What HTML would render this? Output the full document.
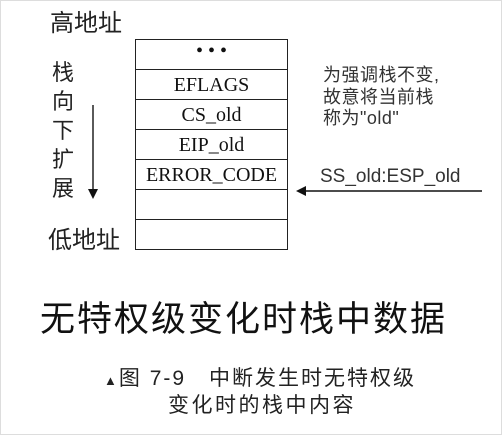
<!DOCTYPE html>
<html><head><meta charset="utf-8"><style>
body{margin:0;width:502px;height:435px;background:#fff;position:relative;overflow:hidden;font-family:"Liberation Sans","Noto Sans CJK SC",sans-serif;color:#222}
.frame{position:absolute;left:0;top:0;width:500px;height:433px;border:1px solid #ddd}
.a{position:absolute;white-space:nowrap;line-height:1}
.tbl{position:absolute;left:135px;top:39px;width:151px;border:1.5px solid #222;border-bottom:none}
.tbl div{height:29px;border-bottom:1.5px solid #222;font-family:"Liberation Serif",serif;font-size:20px;text-align:center;line-height:31px;color:#111}
</style></head><body>
<div class="frame"></div>
<div class="a" style="left:50px;top:12px;font-size:24px">高地址</div>
<div class="a" style="left:48px;top:229px;font-size:24px">低地址</div>
<div class="a" style="left:52px;top:58px;font-size:22px;line-height:29px;width:24px;white-space:normal">栈向下扩展</div>
<svg class="a" style="left:0;top:0" width="502" height="435">
<line x1="93" y1="105" x2="93" y2="190" stroke="#222" stroke-width="1.5"/>
<polygon points="88,189 98,189 93,199" fill="#111"/>
<line x1="302" y1="191" x2="482" y2="191" stroke="#111" stroke-width="1.5"/>
<polygon points="296,191 306,186 306,196" fill="#111"/>
</svg>
<div class="tbl">
<div style="line-height:22px">• • •</div><div>EFLAGS</div><div>CS_old</div><div>EIP_old</div><div>ERROR_CODE</div><div></div><div></div>
</div>
<div class="a" style="left:323px;top:65px;font-size:18px;line-height:21.5px;letter-spacing:0.5px;color:#333">为强调栈不变,<br>故意将当前栈<br>称为"old"</div>
<div class="a" style="left:320px;top:167px;font-size:19px;color:#333">SS_old:ESP_old</div>
<div class="a" style="left:40px;top:302px;font-size:35px;letter-spacing:2px;color:#111">无特权级变化时栈中数据</div>
<div class="a" style="left:104px;top:368px;font-size:21px;letter-spacing:2px;color:#222"><span style="font-size:13px">▲</span>图 7-9　中断发生时无特权级</div>
<div class="a" style="left:168px;top:395px;font-size:21px;letter-spacing:2.5px;color:#222">变化时的栈中内容</div>
</body></html>
